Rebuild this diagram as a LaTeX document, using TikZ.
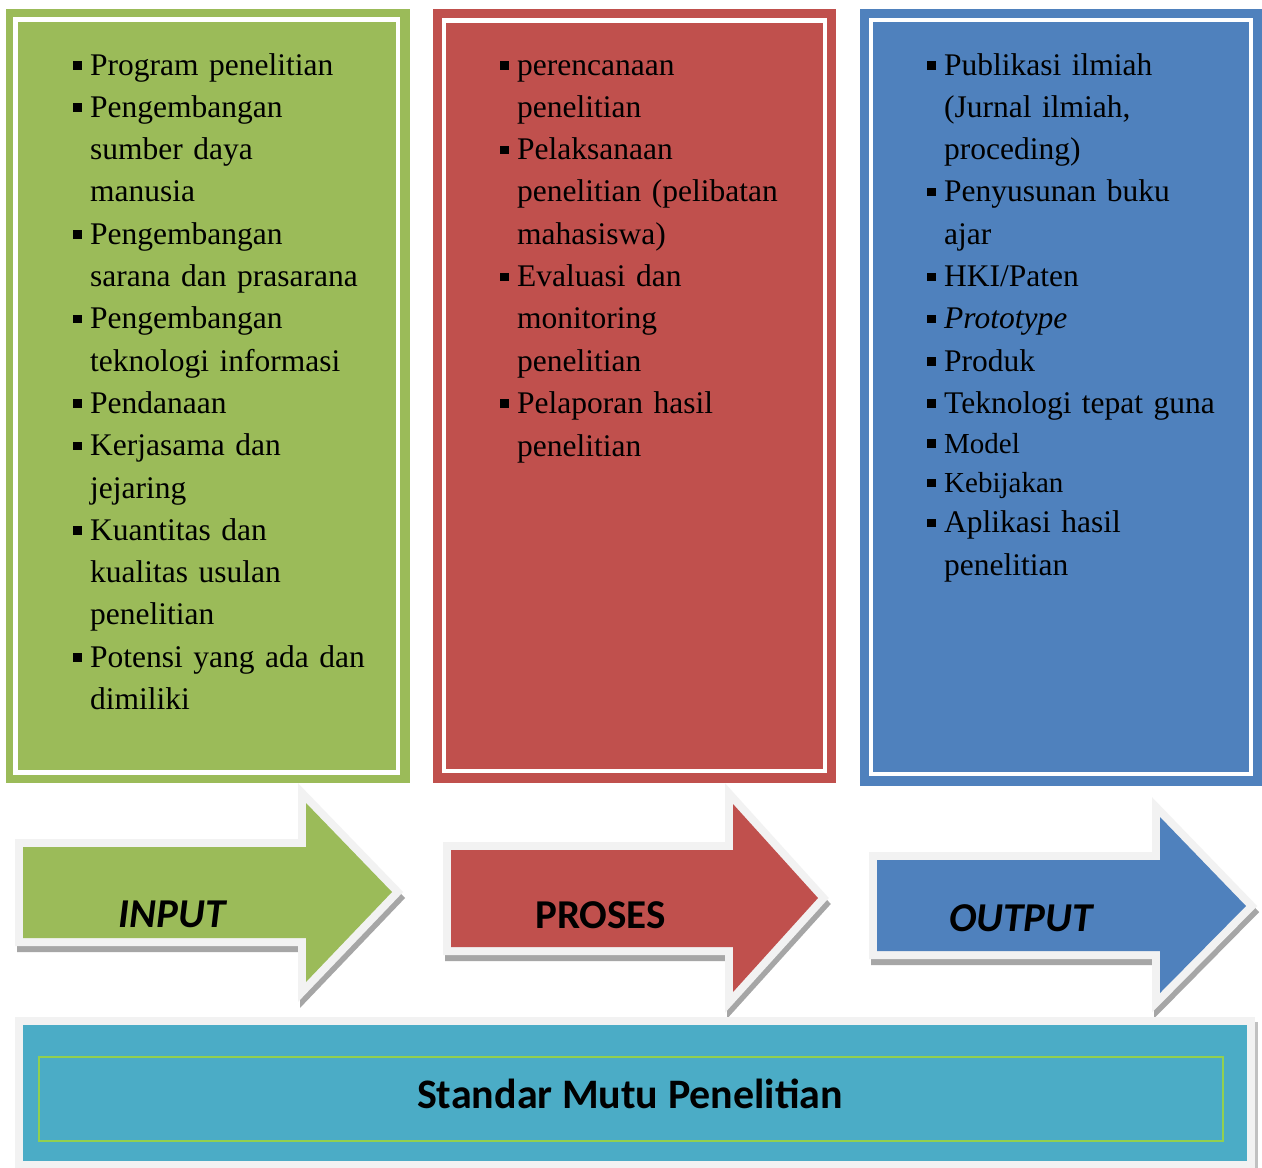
\documentclass[tikz,border=0pt]{standalone}
\usepackage{fontspec}
\setmainfont{Liberation Serif}
\newfontfamily\calib{Carlito}
\definecolor{cgreen}{HTML}{9BBB59}
\definecolor{cred}{HTML}{C0504D}
\definecolor{cblue}{HTML}{4F81BD}
\definecolor{cteal}{HTML}{4BACC6}
\definecolor{clime}{HTML}{92D050}
\definecolor{bordergray}{HTML}{F2F2F2}
\definecolor{shadowgray}{HTML}{A6A6A6}
\newcommand\bul{\makebox[17pt][l]{\rule[5.5pt]{8.5pt}{8.5pt}}}
\newcommand\ind{\hspace*{17pt}}
\tikzset{
  colbox/.style={anchor=base west, inner sep=0pt, align=left, text width=#1,
    font=\fontsize{31.5}{42.3}\selectfont},
  frameline/.style={draw=white, line width=4.5pt},
  arrowshadow/.style={draw=shadowgray, fill=shadowgray, line width=16pt, line join=miter},
  arrowborder/.style={draw=bordergray, line width=16pt, line join=miter},
  arrowlabel/.style={anchor=base, inner sep=0pt, font=\calib\bfseries\fontsize{41}{48}\selectfont},
}
\begin{document}
\begin{tikzpicture}[x=1pt,y=-1pt]
\useasboundingbox[fill=white] (0,0) rectangle (1262,1168);

% ---- column frames ----
\fill[cgreen] (6,9) rectangle (410,783);
\draw[frameline] (15.5,19.5) rectangle (398,772.5);
\fill[cred] (433,9) rectangle (836,783);
\draw[frameline] (444,20.5) rectangle (825,771);
\fill[cblue] (860,9) rectangle (1262,786);
\draw[frameline] (871,20) rectangle (1251,774);

% ---- column texts ----
\node[colbox=320pt] (inlist) at (73,75) {%
\bul Program penelitian\\
\bul Pengembangan\\
\ind sumber daya\\
\ind manusia\\
\bul Pengembangan\\
\ind sarana dan prasarana\\
\bul Pengembangan\\
\ind teknologi informasi\\
\bul Pendanaan\\
\bul Kerjasama dan\\
\ind jejaring\\
\bul Kuantitas dan\\
\ind kualitas usulan\\
\ind penelitian\\
\bul Potensi yang ada dan\\
\ind dimiliki};

\node[colbox=310pt] (proslist) at (500,75) {%
\bul perencanaan\\
\ind penelitian\\
\bul Pelaksanaan\\
\ind penelitian (pelibatan\\
\ind mahasiswa)\\
\bul Evaluasi dan\\
\ind monitoring\\
\ind penelitian\\
\bul Pelaporan hasil\\[0.7pt]
\ind penelitian};

\node[colbox=310pt] (outlist) at (927,75) {%
\bul Publikasi ilmiah\\
\ind (Jurnal ilmiah,\\
\ind proceding)\\
\bul Penyusunan buku\\
\ind ajar\\
\bul HKI/Paten\\
\bul \textit{Prototype}\\
\bul Produk\\
\bul Teknologi tepat guna\\[-2.7pt]
\bul {\fontsize{29}{38}\selectfont Model}\\[-2.8pt]
\bul {\fontsize{29}{38}\selectfont Kebijakan}\\[-2.3pt]
\bul Aplikasi hasil\\[0.5pt]
\ind penelitian};

% ---- arrows ----
% INPUT
\draw[arrowshadow, shift={(2,6)}] (23,847) -- (306,847) -- (306,803) -- (392,892) -- (306,982) -- (306,938) -- (23,938) -- cycle;
\draw[arrowborder, fill=cgreen] (23,847) -- (306,847) -- (306,803) -- (392,892) -- (306,982) -- (306,938) -- (23,938) -- cycle;
\fill[cgreen] (23,847) -- (306,847) -- (306,803) -- (392,892) -- (306,982) -- (306,938) -- (23,938) -- cycle;
\node[arrowlabel, font=\calib\bfseries\itshape\fontsize{41}{48}\selectfont] (input) at (172,927) {INPUT};

% PROSES
\draw[arrowshadow, shift={(2,6)}] (451,850) -- (733,850) -- (733,804) -- (818,898) -- (733,992) -- (733,947) -- (451,947) -- cycle;
\draw[arrowborder, fill=cred] (451,850) -- (733,850) -- (733,804) -- (818,898) -- (733,992) -- (733,947) -- (451,947) -- cycle;
\fill[cred] (451,850) -- (733,850) -- (733,804) -- (818,898) -- (733,992) -- (733,947) -- (451,947) -- cycle;
\node[arrowlabel] (proses) at (600.5,928) {PROSES};

% OUTPUT
\draw[arrowshadow, shift={(2,6)}] (877,860) -- (1160,860) -- (1160,817) -- (1246,906) -- (1160,993) -- (1160,951) -- (877,951) -- cycle;
\draw[arrowborder, fill=cblue] (877,860) -- (1160,860) -- (1160,817) -- (1246,906) -- (1160,993) -- (1160,951) -- (877,951) -- cycle;
\fill[cblue] (877,860) -- (1160,860) -- (1160,817) -- (1246,906) -- (1160,993) -- (1160,951) -- (877,951) -- cycle;
\node[arrowlabel, font=\calib\bfseries\itshape\fontsize{41}{48}\selectfont] (output) at (1021,931) {OUTPUT};

% ---- bottom bar ----
\fill[bordergray] (15,1017) rectangle (1255,1168);
\fill[shadowgray!70] (1255,1022) rectangle (1258,1168);
\fill[cteal] (23,1025) rectangle (1247,1161);
\draw[clime, line width=2pt] (39,1057) rectangle (1223,1141);
\node[anchor=base, inner sep=0pt, font=\calib\bfseries\fontsize{42}{50}\selectfont] (standar) at (630,1108) {Standar Mutu Penelitian};
\end{tikzpicture}
\end{document}
